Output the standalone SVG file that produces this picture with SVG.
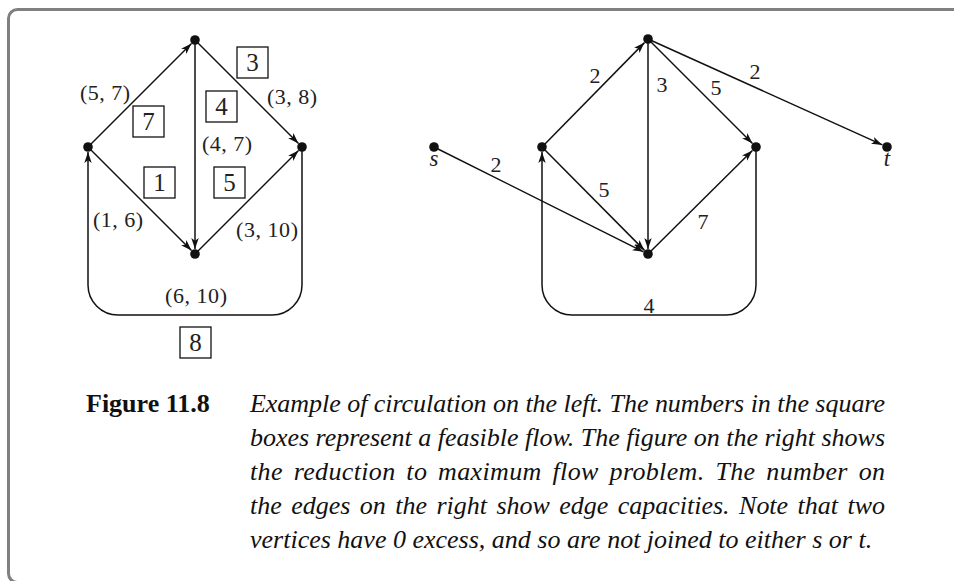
<svg xmlns="http://www.w3.org/2000/svg" width="954" height="581" viewBox="0 0 954 581">
<defs>
<marker id="ah" markerUnits="userSpaceOnUse" markerWidth="12" markerHeight="9" refX="11" refY="4.5" orient="auto">
<path d="M0,0.8 L11,4.5 L0,8.2 L2.8,4.5 z" fill="#111"/>
</marker>
<style>
.e{fill:none;stroke:#111;stroke-width:1.5}
.a{marker-end:url(#ah)}
.n{fill:#111}
.lb{font-family:"Liberation Serif",serif;font-size:22px;fill:#222;text-anchor:middle}
.bx{fill:none;stroke:#111;stroke-width:1.3}
.bd{font-family:"Liberation Serif",serif;font-size:25px;fill:#222;text-anchor:middle}
.it{font-family:"Liberation Serif",serif;font-style:italic;font-size:23px;fill:#222}
.cap{font-family:"Liberation Serif",serif;font-style:italic;font-size:26px;fill:#111}
.fig{font-family:"Liberation Serif",serif;font-weight:bold;font-size:26px;fill:#111}
</style>
</defs>
<rect x="8.5" y="9.5" width="1000" height="573" rx="9" fill="none" stroke="#808080" stroke-width="3"/>

<g id="connectors">
<line class="e a" x1="88" y1="147" x2="191.5" y2="43.5"/>
<line class="e a" x1="195" y1="40" x2="298.5" y2="143.5"/>
<line class="e a" x1="195" y1="40" x2="195" y2="249"/>
<line class="e a" x1="88" y1="147" x2="191.5" y2="250.5"/>
<line class="e a" x1="195" y1="254" x2="298.5" y2="150.5"/>
<path class="e a" d="M302,147 V285 A30,30 0 0 1 272,315 H118 A30,30 0 0 1 88,285 V152"/>

<line class="e a" x1="542" y1="147" x2="644.5" y2="42.6"/>
<line class="e a" x1="648" y1="39" x2="648" y2="249"/>
<line class="e a" x1="648" y1="39" x2="752.5" y2="143.5"/>
<line class="e a" x1="648" y1="39" x2="882.4" y2="144.9"/>
<line class="e a" x1="434" y1="147" x2="643.5" y2="251.8"/>
<line class="e a" x1="542" y1="147" x2="644.5" y2="250.4"/>
<line class="e a" x1="648" y1="254" x2="752.4" y2="150.5"/>
<path class="e a" d="M756,147 V285 A30,30 0 0 1 726,315 H572 A30,30 0 0 1 542,285 V152"/>
</g>

<g id="left-top"><circle class="n" cx="195" cy="40" r="4.8"/></g>
<g id="left-left"><circle class="n" cx="88" cy="147" r="4.8"/></g>
<g id="left-right"><circle class="n" cx="302" cy="147" r="4.8"/></g>
<g id="left-bottom"><circle class="n" cx="195" cy="254" r="4.8"/></g>

<g id="right-top"><circle class="n" cx="648" cy="39" r="4.8"/></g>
<g id="right-s"><circle class="n" cx="434" cy="147" r="4.8"/><text class="it" x="434" y="166" text-anchor="middle">s</text></g>
<g id="right-left"><circle class="n" cx="542" cy="147" r="4.8"/></g>
<g id="right-right"><circle class="n" cx="756" cy="147" r="4.8"/></g>
<g id="right-t"><circle class="n" cx="887" cy="147" r="4.8"/><text class="it" x="887" y="166" text-anchor="middle">t</text></g>
<g id="right-bottom"><circle class="n" cx="648" cy="254" r="4.8"/></g>

<g id="left-labels">
<text class="lb" x="105" y="100" textLength="50" lengthAdjust="spacing">(5, 7)</text>
<text class="lb" x="292" y="104" textLength="50" lengthAdjust="spacing">(3, 8)</text>
<text class="lb" x="227" y="151" textLength="50" lengthAdjust="spacing">(4, 7)</text>
<text class="lb" x="118" y="227" textLength="50" lengthAdjust="spacing">(1, 6)</text>
<text class="lb" x="267" y="237" textLength="62" lengthAdjust="spacing">(3, 10)</text>
<text class="lb" x="196" y="303" textLength="62" lengthAdjust="spacing">(6, 10)</text>
</g>

<g id="flow-boxes">
<rect class="bx" x="237" y="47" width="31" height="31"/><text class="bd" x="252.5" y="71">3</text>
<rect class="bx" x="206" y="91" width="31" height="31"/><text class="bd" x="221.5" y="115">4</text>
<rect class="bx" x="133" y="106" width="31" height="31"/><text class="bd" x="148.5" y="130">7</text>
<rect class="bx" x="144" y="167" width="31" height="31"/><text class="bd" x="159.5" y="191">1</text>
<rect class="bx" x="214" y="167" width="31" height="31"/><text class="bd" x="229.5" y="191">5</text>
<rect class="bx" x="180" y="327" width="31" height="31"/><text class="bd" x="195.5" y="351">8</text>
</g>

<g id="right-labels">
<text class="lb" x="595" y="83">2</text>
<text class="lb" x="662" y="92">3</text>
<text class="lb" x="716" y="95">5</text>
<text class="lb" x="755" y="79">2</text>
<text class="lb" x="496" y="172">2</text>
<text class="lb" x="604" y="197">5</text>
<text class="lb" x="703" y="229">7</text>
<text class="lb" x="649" y="313">4</text>
</g>

<g id="caption">
<text class="fig" x="86" y="412">Figure 11.8</text>
<text class="cap" x="250" y="412" textLength="635" lengthAdjust="spacing">Example of circulation on the left. The numbers in the square</text>
<text class="cap" x="250" y="446" textLength="635" lengthAdjust="spacing">boxes represent a feasible flow. The figure on the right shows</text>
<text class="cap" x="250" y="480" word-spacing="4" textLength="635" lengthAdjust="spacing">the reduction to maximum flow problem. The number on</text>
<text class="cap" x="250" y="514" word-spacing="3" textLength="635" lengthAdjust="spacing">the edges on the right show edge capacities. Note that two</text>
<text class="cap" x="250" y="548">vertices have 0 excess, and so are not joined to either s or t.</text>
</g>
</svg>
